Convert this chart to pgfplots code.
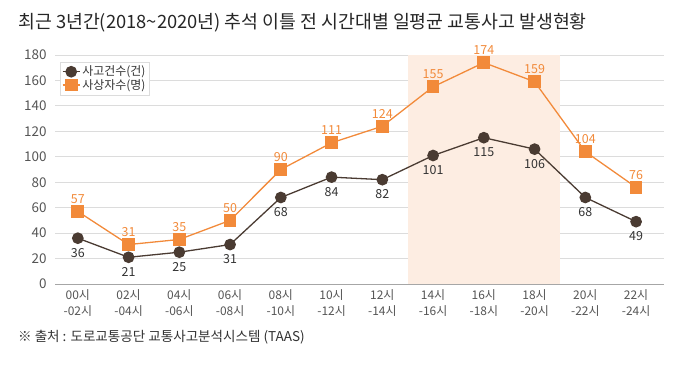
\documentclass[border=0pt]{standalone}
\usepackage{fontspec}
\setmainfont{Noto Sans CJK KR}
\usepackage{pgfplots}
\pgfplotsset{compat=1.18}
\definecolor{brn}{HTML}{4A3B32}
\definecolor{org}{HTML}{F28A3A}
\definecolor{hl}{HTML}{FDEDE2}
\definecolor{gridc}{HTML}{DCDCDC}
\definecolor{txt}{HTML}{555555}
\begin{document}
\begin{tikzpicture}
\path (0,0) rectangle (680bp,365bp);
\node[anchor=west, font=\fontsize{18.4}{20}\selectfont, text=black!85, inner sep=0pt] at (18bp,342bp) {최근 3년간(2018\textasciitilde 2020년) 추석 이틀 전 시간대별 일평균 교통사고 발생현황};
\node[anchor=west, font=\fontsize{13.6}{15}\selectfont, text=black!80, inner sep=0pt] at (18bp,28bp) {※ 출처 : 도로교통공단 교통사고분석시스템 (TAAS)};
\begin{axis}[
  at={(55bp,81bp)}, anchor=south west,
  scale only axis, width=609bp, height=229bp,
  set layers, clip=false,
  xmin=-0.45, xmax=11.55, ymin=0, ymax=180,
  ytick={0,20,...,180},
  xtick={0,...,11},
  xticklabels={{00시\\-02시},{02시\\-04시},{04시\\-06시},{06시\\-08시},{08시\\-10시},{10시\\-12시},{12시\\-14시},{14시\\-16시},{16시\\-18시},{18시\\-20시},{20시\\-22시},{22시\\-24시}},
  x tick label style={align=center, font=\fontsize{12}{16}\selectfont, text=txt, yshift=-2bp},
  y tick label style={font=\fontsize{13.5}{15}\selectfont, text=txt, xshift=-5bp},
  /pgf/number format/assume math mode=true,
  axis line style={draw=none},
  tick style={draw=none},
  ymajorgrids, grid style={gridc, line width=0.8pt},
  legend style={at={(0.008,0.97)}, anchor=north west, draw=gridc, font=\fontsize{12}{13}\selectfont, text=black!80, inner sep=2pt, row sep=-2pt},
  legend cell align=left,
  nodes near coords,
  every node near coord/.append style={font=\fontsize{12.5}{14}\selectfont},
]
\fill[hl, on layer=axis background] (axis cs:6.5,0) rectangle (axis cs:9.5,180);
\draw[on layer=axis foreground, black!35, line width=1pt] (rel axis cs:0,0) -- (rel axis cs:1,0);
\addplot[brn, line width=1.3pt, mark=*, mark size=5.2bp, mark options={fill=brn},
  every node near coord/.append style={text=black!80, anchor=north, yshift=-6bp}]
  coordinates {(0,36)(1,21)(2,25)(3,31)(4,68)(5,84)(6,82)(7,101)(8,115)(9,106)(10,68)(11,49)};
\addlegendentry{사고건수(건)}
\addplot[org, line width=1.3pt, mark=square*, mark size=5.7bp, mark options={fill=org},
  every node near coord/.append style={text=org, anchor=south, yshift=4bp}]
  coordinates {(0,57)(1,31)(2,35)(3,50)(4,90)(5,111)(6,124)(7,155)(8,174)(9,159)(10,104)(11,76)};
\addlegendentry{사상자수(명)}
\end{axis}
\end{tikzpicture}
\end{document}
